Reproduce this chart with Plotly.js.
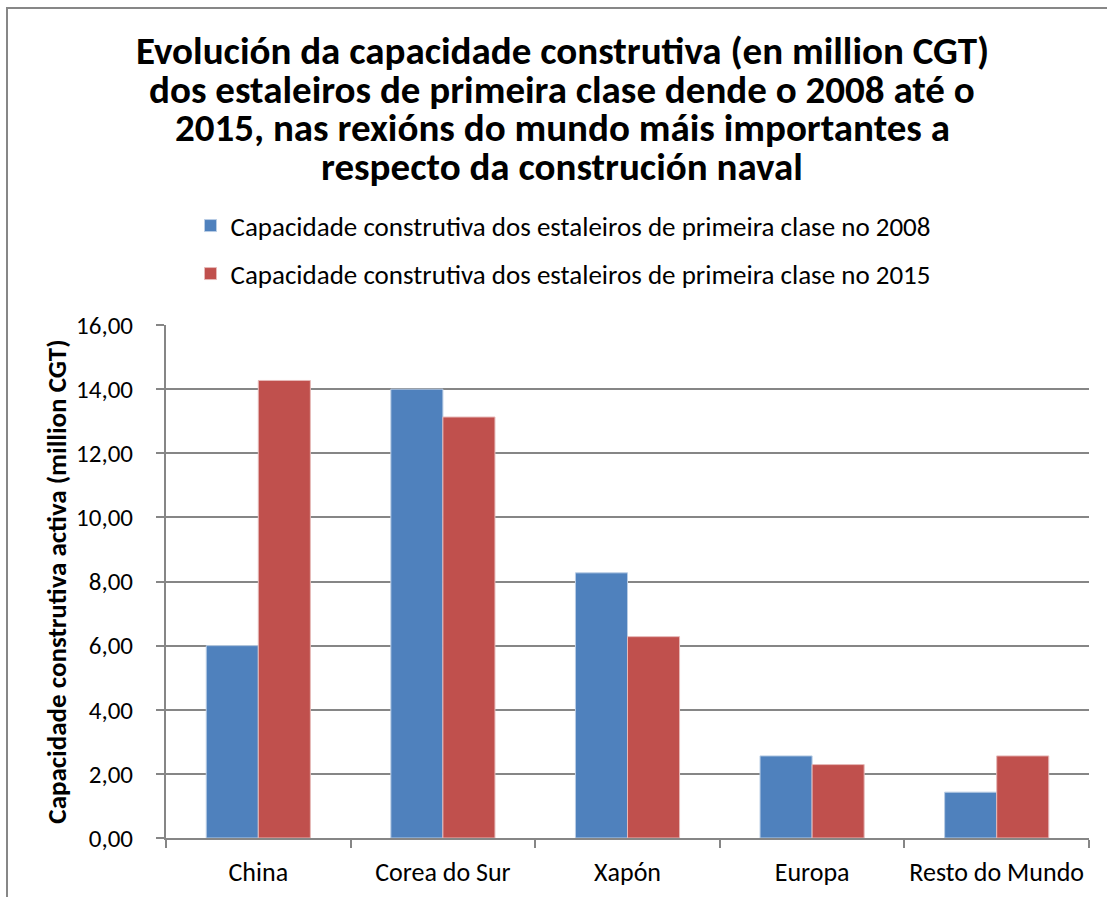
<!DOCTYPE html>
<html>
<head>
<meta charset="utf-8">
<script src="https://cdn.plot.ly/plotly-3.0.1.min.js"></script>
<style>
  html, body { margin: 0; padding: 0; background: #fff; }
  #wrap { position: relative; width: 1107px; height: 897px; }
  #chart { position: absolute; left: 0; top: 0; width: 1107px; height: 897px; }
  #frame { position: absolute; left: 6px; top: 7px; width: 1110px; height: 900px;
           border-left: 2px solid #878787; border-top: 2px solid #878787; pointer-events: none; }
</style>
</head>
<body>
<div id="wrap">
  <div id="chart"></div>
  <div id="frame"></div>
</div>
<script>
const categories = ["China", "Corea do Sur", "Xapón", "Europa", "Resto do Mundo"];
const values2008 = [6.00, 14.00, 8.27, 2.56, 1.43];
const values2015 = [14.27, 13.13, 6.28, 2.29, 2.56];
const seriesNames = [
  "Capacidade construtiva dos estaleiros de primeira clase no 2008",
  "Capacidade construtiva dos estaleiros de primeira clase no 2015"
];
const titleLines = [
  "Evolución da capacidade construtiva (en million CGT)",
  "dos estaleiros de primeira clase dende o 2008 até o",
  "2015, nas rexións do mundo máis importantes a",
  "respecto da construción naval"
];
const yAxisTitle = "Capacidade construtiva activa (million CGT)";
const yTickValues = [0, 2, 4, 6, 8, 10, 12, 14, 16];

const FONT = "Carlito, Calibri, 'Liberation Sans Narrow', 'Open Sans', sans-serif";

// plot area: left 166, right 1089, top 325, bottom 838 (px)
const PLOT_LEFT = 166, PLOT_RIGHT = 1089, PLOT_TOP = 325, PLOT_BOTTOM = 838;
const toPaperY = (py) => (PLOT_BOTTOM - py) / (PLOT_BOTTOM - PLOT_TOP);
const toPaperX = (px) => (px - PLOT_LEFT) / (PLOT_RIGHT - PLOT_LEFT);

const traces = [
  { type: "bar", x: categories, y: values2008, name: seriesNames[0],
    marker: { color: "#4F81BD", line: { color: "#B9CDE5", width: 1 } }, legend: "legend" },
  { type: "bar", x: categories, y: values2015, name: seriesNames[1],
    marker: { color: "#C0504D", line: { color: "#E6B9B8", width: 1 } }, legend: "legend2" }
];

const legendCommon = {
  orientation: "v", xref: "paper", yref: "paper", x: toPaperX(563), xanchor: "center", yanchor: "middle",
  font: { family: FONT, size: 27, color: "#000" }, bgcolor: "rgba(0,0,0,0)", itemwidth: 30
};

const titleCenters = [50, 89, 128, 166];
const annotations = titleLines.map((t, i) => ({
  text: "<b>" + t + "</b>", showarrow: false,
  xref: "paper", yref: "paper", x: toPaperX(562), xanchor: "center",
  y: toPaperY(titleCenters[i]), yanchor: "middle",
  font: { family: FONT, size: 39, color: "#000" }
}));

const layout = {
  width: 1107, height: 897,
  margin: { l: PLOT_LEFT, r: 1107 - PLOT_RIGHT, t: PLOT_TOP, b: 897 - PLOT_BOTTOM },
  paper_bgcolor: "#fff", plot_bgcolor: "#fff",
  font: { family: FONT, color: "#000" },
  annotations: annotations,
  barmode: "group",
  bargap: 0.436, bargroupgap: 0,
  showlegend: true,
  legend: Object.assign({}, legendCommon, { y: toPaperY(226) }),
  legend2: Object.assign({}, legendCommon, { y: toPaperY(274) }),
  xaxis: {
    type: "category",
    showline: true, linecolor: "#868686", linewidth: 2,
    ticks: "outside", tickson: "boundaries", ticklen: 8, tickcolor: "#868686", tickwidth: 2,
    showgrid: false,
    tickangle: 0,
    tickfont: { family: FONT, size: 26, color: "#000" },
    ticklabelstandoff: 10,
    automargin: false
  },
  yaxis: {
    range: [0, 16],
    tickvals: yTickValues,
    tickformat: ".2f",
    showline: true, linecolor: "#868686", linewidth: 2,
    ticks: "outside", ticklen: 8, tickcolor: "#868686", tickwidth: 2,
    showgrid: true, gridcolor: "#868686", gridwidth: 2,
    zeroline: false,
    tickfont: { family: FONT, size: 25, color: "#000" },
    ticklabelstandoff: 18,
    title: { text: "<b>" + yAxisTitle + "</b>",
             font: { family: FONT, size: 27, color: "#000" }, standoff: 2 },
    automargin: false
  },
  separators: ",."
};

Plotly.newPlot("chart", traces, layout, { displayModeBar: false, staticPlot: true });
</script>
</body>
</html>
